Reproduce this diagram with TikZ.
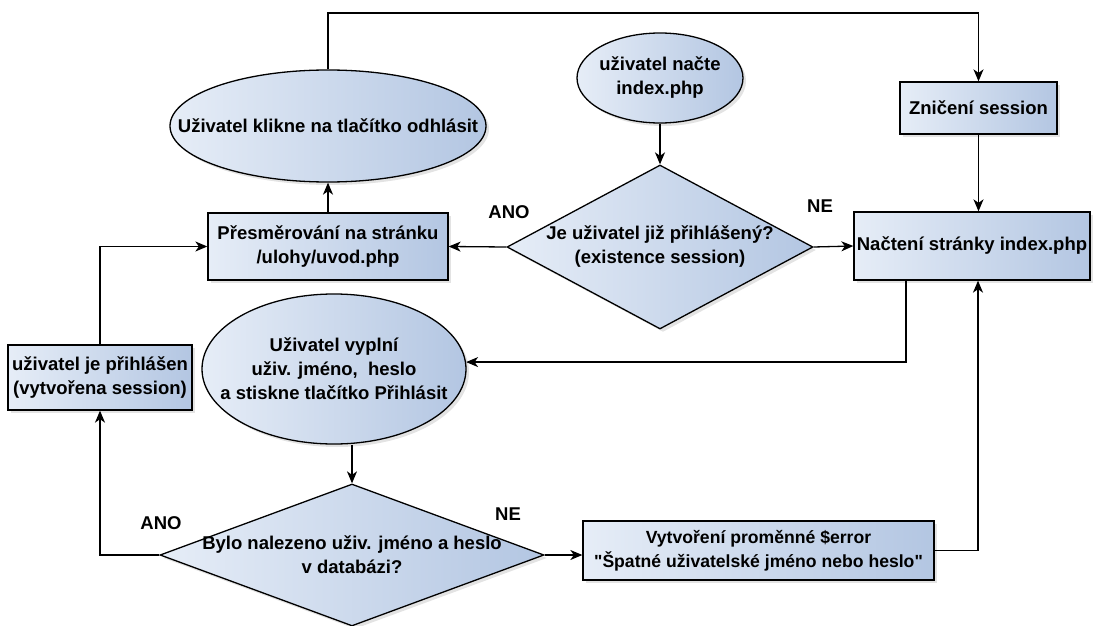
\documentclass[tikz,border=0pt]{standalone}
\usepackage{fontspec}
\setmainfont{Liberation Sans}[Ligatures=TeXOff]
\usetikzlibrary{shapes.geometric,arrows.meta,shadows}
\definecolor{fillL}{HTML}{E6EDF7}
\definecolor{fillR}{HTML}{B3C6E2}

\begin{document}
\begin{tikzpicture}[x=1pt,y=-1pt,
  txt/.style={font=\bfseries\fontsize{18.5}{24}\selectfont, align=center, inner sep=0pt},
  smalltxt/.style={font=\bfseries\fontsize{17.6}{24}\selectfont},
  base/.style={draw=black, line width=1.3pt, left color=fillL, right color=fillR,
    inner sep=0pt, drop shadow={shadow xshift=3pt, shadow yshift=-3pt, opacity=0.22, fill=gray}},
  procbox/.style={base, rectangle, txt},
  ovalbox/.style={base, ellipse},
  decbox/.style={base, diamond},
  inner/.style={label={[txt]center:{#1}}},
  flow/.style={line width=1.3pt, -{Stealth[length=12pt,width=10pt,inset=3.5pt]}},
  answer/.style={txt}
]
\useasboundingbox (0,0) rectangle (1093,626);

% nodes
\node[ovalbox, minimum width=166, minimum height=90, inner={uživatel načte\\index.php}] (start) at (660,78) {};
\node[ovalbox, minimum width=316, minimum height=112, inner={Uživatel klikne na tlačítko odhlásit}] (logout) at (328,126) {};
\node[procbox, minimum width=240, minimum height=67] (redirect) at (328,246.5) {Přesměrování na stránku\\/ulohy/uvod.php};
\node[decbox, minimum width=306, minimum height=164, inner={Je uživatel již přihlášený?\\(existence session)}] (q1) at (660,247) {};
\node[procbox, minimum width=157, minimum height=52] (destroy) at (978.5,108) {Zničení session};
\node[procbox, minimum width=236, minimum height=68] (load) at (972,246) {Načtení stránky index.php};
\node[procbox, minimum width=184, minimum height=65] (logged) at (100,377.5) {uživatel je přihlášen\\(vytvořena session)};
\node[ovalbox, minimum width=264, minimum height=150, inner={Uživatel vyplní\\uživ. jméno,~ heslo\\a stiskne tlačítko Přihlásit}] (fill) at (334,369) {};
\node[decbox, minimum width=384, minimum height=142, inner={Bylo nalezeno uživ. jméno a heslo\\v databázi?}] (q2) at (352,555) {};
\node[procbox, smalltxt, minimum width=351, minimum height=59] (error) at (758.5,550.5) {Vytvoření proměnné \$error\\"Špatné uživatelské jméno nebo heslo"};

% connectors
\draw[flow] (start) -- (q1);
\draw[flow] (q1.west) -- (redirect.east);
\draw[flow] (q1.east) -- (load.west);
\draw[flow] (redirect) -- (logout);
\draw[flow] (logout.north) |- (978.5,13) -- (destroy.north);
\draw[flow] (destroy) -- (destroy |- load.north);
\draw[flow] ([xshift=-66pt]load.south) |- (fill.3.5);
\draw[flow] (fill.south -| q2.north) -- (q2.north);
\draw[flow] (q2.east) -- (q2.east -| error.west);
\draw[flow] (error.east) -| ([xshift=6pt]load.south);
\draw[flow] (q2.west) -| (logged.south);
\draw[flow] (logged.north) |- (redirect.west);

% branch labels
\node[answer] (ano1) at (509,212) {ANO};
\node[answer] (ne1) at (820,206) {NE};
\node[answer] (ano2) at (161,523) {ANO};
\node[answer] (ne2) at (508,514) {NE};
\end{tikzpicture}
\end{document}
